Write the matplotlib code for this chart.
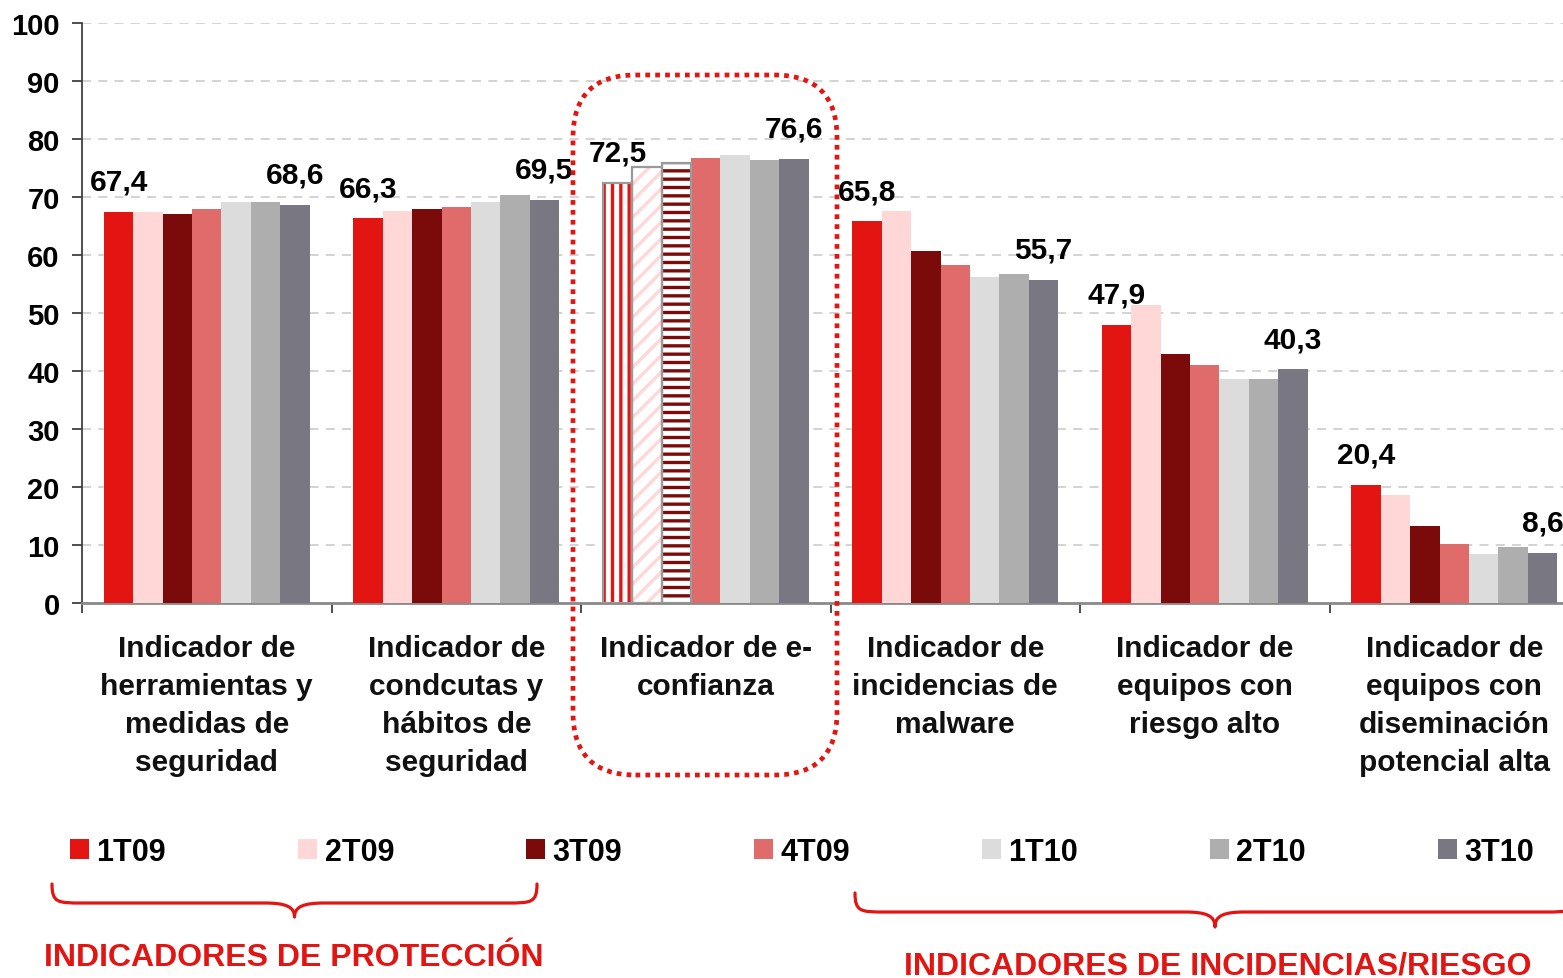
import matplotlib
matplotlib.use("Agg")
import matplotlib.pyplot as plt
from matplotlib.patches import Patch, FancyBboxPatch, PathPatch
from matplotlib.path import Path
import numpy as np

# ---------------- data ----------------
categories = [
    "Indicador de\nherramientas y\nmedidas de\nseguridad",
    "Indicador de\ncondcutas y\nhábitos de\nseguridad",
    "Indicador de e-\nconfianza",
    "Indicador de\nincidencias de\nmalware",
    "Indicador de\nequipos con\nriesgo alto",
    "Indicador de\nequipos con\ndiseminación\npotencial alta",
]
series_names = ["1T09", "2T09", "3T09", "4T09", "1T10", "2T10", "3T10"]
v_1T09 = [67.4, 66.3, 72.5, 65.8, 47.9, 20.4]
v_2T09 = [67.5, 67.6, 75.1, 67.6, 51.4, 18.6]
v_3T09 = [67.0, 68.0, 75.9, 60.7, 42.9, 13.3]
v_4T09 = [67.9, 68.3, 76.7, 58.3, 41.0, 10.2]
v_1T10 = [69.1, 69.2, 77.2, 56.2, 38.6, 8.4]
v_2T10 = [69.2, 70.4, 76.4, 56.7, 38.6, 9.7]
v_3T10 = [68.6, 69.5, 76.6, 55.7, 40.3, 8.6]
series_values = [v_1T09, v_2T09, v_3T09, v_4T09, v_1T10, v_2T10, v_3T10]
yticks = list(range(0, 101, 10))
group_titles = ["INDICADORES DE PROTECCIÓN", "INDICADORES DE INCIDENCIAS/RIESGO"]

colors = ["#E31513", "#FFD7D7", "#7B0A0A", "#E06B6B", "#DCDCDC", "#AEAEAE", "#797882"]
RED = "#E31513"

W, H = 1563, 979
fig = plt.figure(figsize=(W / 100, H / 100), dpi=100)
fig.patch.set_facecolor("white")

def fx(px):
    return px / W

def fy(py):
    return 1 - py / H

ax = fig.add_axes([fx(82), fy(604), fx(1579 - 82), (604 - 24) / H])
ax.set_xlim(0, len(categories))
ax.set_ylim(0, 100)

bw = 0.1178
n = len(series_names)
x = np.arange(len(categories)) + 0.5
hatched_group = 2
hatch_specs = {0: "||", 1: "//", 2: "--"}

plt.rcParams["hatch.linewidth"] = 2.4
for j, (name, vals, col) in enumerate(zip(series_names, series_values, colors)):
    pos = x + (j - (n - 1) / 2) * bw
    bars = ax.bar(pos, vals, width=bw, color=col, linewidth=0, zorder=3)
    if j in hatch_specs:
        b = bars[hatched_group]
        b.set_visible(False)
        ax.bar(pos[hatched_group], vals[hatched_group], width=bw, facecolor="white",
               edgecolor=col, linewidth=0, hatch=hatch_specs[j], zorder=3)
        ax.bar(pos[hatched_group], vals[hatched_group], width=bw, fill=False,
               edgecolor="#9A9A9A", linewidth=1.6, zorder=4)
    if j in (0, n - 1):
        for xi, v in zip(pos, vals):
            ax.annotate(f"{v:.1f}".replace(".", ","), xy=(xi, v), xytext=(0, 16),
                        textcoords="offset points", ha="center", va="baseline",
                        fontsize=21.5, fontweight="bold", family="Liberation Sans",
                        color="black", zorder=6, annotation_clip=False)

# axes styling
ax.set_yticks(yticks)
ax.set_yticklabels([str(t) for t in yticks], fontsize=21, fontweight="bold",
                   family="Liberation Sans")
ax.set_xticks(np.arange(len(categories) + 1))
ax.set_xticklabels([])
ax.tick_params(axis="y", direction="out", length=7, width=1.3, color="#404040", pad=9)
ax.tick_params(axis="x", direction="out", length=7, width=1.3, color="#404040")
ax.yaxis.grid(True, linestyle=(0, (5, 4)), color="#D0D0D0", linewidth=1.3, zorder=0)
ax.set_axisbelow(True)
for s in ("top", "right"):
    ax.spines[s].set_visible(False)
ax.spines["left"].set_color("#404040")
ax.spines["left"].set_linewidth(1.3)
ax.spines["bottom"].set_color("#8A8A8A")
ax.spines["bottom"].set_linewidth(2)

for xi, lab in zip(x, categories):
    ax.annotate(lab, xy=(xi, 0), xycoords=("data", "axes fraction"),
                xytext=(0, -31), textcoords="offset pixels", ha="center", va="top",
                fontsize=21.5, fontweight="bold", family="Liberation Sans",
                linespacing=1.45, color="#111111", annotation_clip=False)

# legend
handles = [Patch(facecolor=c, edgecolor="none") for c in colors]
leg = fig.legend(handles, series_names, ncol=7, mode="expand", loc="center left",
                 bbox_to_anchor=(fx(70), fy(853), fx(1534 - 70), 0), frameon=False,
                 handlelength=0.62, handleheight=0.62, handletextpad=0.25,
                 borderpad=0, borderaxespad=0,
                 prop={"family": "Liberation Sans", "weight": "bold", "size": 22})

# dotted rounded rectangle around e-confianza
box = FancyBboxPatch((fx(573), fy(776)), fx(837 - 573), (776 - 76) / H,
                     boxstyle="round,pad=0,rounding_size=0.04",
                     transform=fig.transFigure, fill=False, edgecolor=RED,
                     linewidth=3.4, linestyle=(0, (1, 1.1)), zorder=10,
                     mutation_aspect=W / H)
fig.add_artist(box)

def brace(x0, x1, ytop, ymid, ybot):
    xc = (x0 + x1) / 2
    r = 30
    pts = [
        (x0, ytop),
        (x0, ymid), (x0 + 6, ymid), (x0 + r, ymid),
        (xc - r, ymid),
        (xc - 8, ymid), (xc, ymid + 4), (xc, ybot),
        (xc, ymid + 4), (xc + 8, ymid), (xc + r, ymid),
        (x1 - r, ymid),
        (x1 - 6, ymid), (x1, ymid), (x1, ytop),
    ]
    codes = [Path.MOVETO,
             Path.CURVE4, Path.CURVE4, Path.CURVE4,
             Path.LINETO,
             Path.CURVE4, Path.CURVE4, Path.CURVE4,
             Path.CURVE4, Path.CURVE4, Path.CURVE4,
             Path.LINETO,
             Path.CURVE4, Path.CURVE4, Path.CURVE4]
    verts = [(fx(px), fy(py)) for px, py in pts]
    p = PathPatch(Path(verts, codes), transform=fig.transFigure, fill=False,
                  edgecolor=RED, linewidth=2.3, capstyle="round", joinstyle="round")
    fig.add_artist(p)

brace(52, 537, 885, 904, 918)
brace(855, 1575, 894, 913, 928)

fig.text(fx(294), fy(958), group_titles[0], ha="center", va="center", color=RED,
         fontsize=23, fontweight="bold", family="Liberation Sans")
fig.text(fx(1218), fy(967), group_titles[1], ha="center", va="center", color=RED,
         fontsize=23, fontweight="bold", family="Liberation Sans")

fig.savefig("out.png", dpi=100, facecolor="white")
